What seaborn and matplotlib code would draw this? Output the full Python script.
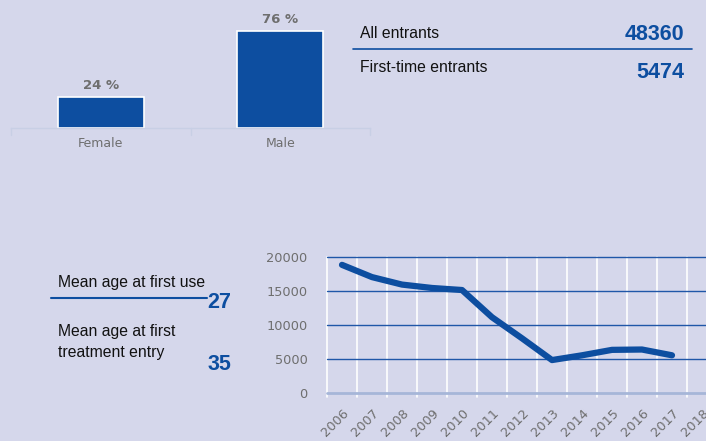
import matplotlib
matplotlib.use("Agg")
import matplotlib.pyplot as plt
import seaborn as sns
import pandas as pd
from matplotlib.lines import Line2D

sns.set_theme(style="white")
plt.rcParams['font.family'] = ['Liberation Sans', 'DejaVu Sans']

BG = "#d5d7eb"
BLUE = "#0d4ea0"
GRID = "#1f57a8"
GREY = "#6e6e6e"

# --- data ---
genders = ["Female", "Male"]
gender_pct = [24, 76]

years = [str(y) for y in range(2006, 2019)]
entrants = [18800, 17000, 15900, 15400, 15100, 11100, 8000, 4800, 5500, 6300, 6350, 5500, None]

kpi_labels = ["All entrants", "First-time entrants"]
kpi_values = ["48360", "5474"]

age_labels = ["Mean age at first use", "Mean age at first\ntreatment entry"]
age_values = ["27", "35"]

W, H = 706, 441
fig = plt.figure(figsize=(W / 100, H / 100), dpi=100, facecolor=BG)

def ax_px(x0, y0, x1, y1):
    return fig.add_axes([x0 / W, 1 - y1 / H, (x1 - x0) / W, (y1 - y0) / H])

# --- bar chart ---
axb = ax_px(11, 1, 370, 127.7)
axb.set_facecolor("none")
dfb = pd.DataFrame({"gender": genders, "pct": gender_pct})
sns.barplot(data=dfb, x="gender", y="pct", ax=axb, color=BLUE, width=0.48,
            edgecolor="white", linewidth=1.2, saturation=1)
axb.set_ylim(0, 99.3)
axb.set_xlim(-0.5, 1.5)
for i, v in enumerate(gender_pct):
    axb.text(i, v + 4, f"{v} %", ha="center", va="bottom", color=GREY,
             fontsize=9.5, fontweight="bold", family=["DejaVu Sans"])
for s in ["top", "right", "left"]:
    axb.spines[s].set_visible(False)
axb.spines["bottom"].set_color("#c8cfe5")
axb.spines["bottom"].set_linewidth(1)
axb.set_yticks([])
axb.set_xlabel("")
axb.set_ylabel("")
axb.set_xticks([0, 1])
axb.set_xticklabels(genders, color=GREY, fontsize=9, family=["DejaVu Sans"])
axb.tick_params(axis="x", length=0, pad=7)
for xb in [-0.5, 0.5, 1.5]:
    axb.plot([xb, xb], [0, -6], color="#c8cfe5", lw=1, clip_on=False)

# --- KPI text ---
fig.text(360 / W, 1 - 33 / H, kpi_labels[0], fontsize=11.3, color="#111111", va="center")
fig.text(684 / W, 1 - 35 / H, kpi_values[0], fontsize=15.5, color=BLUE, fontweight="bold",
         va="center", ha="right")
fig.add_artist(Line2D([353 / W, 692 / W], [1 - 49 / H] * 2, color=BLUE, lw=1.2))
fig.text(360 / W, 1 - 68 / H, kpi_labels[1], fontsize=11.3, color="#111111", va="center")
fig.text(684 / W, 1 - 73 / H, kpi_values[1], fontsize=15.5, color=BLUE, fontweight="bold",
         va="center", ha="right")

# --- age text ---
fig.text(58 / W, 1 - 283 / H, age_labels[0], fontsize=11.3, color="#111111", va="center")
fig.add_artist(Line2D([51 / W, 207 / W], [1 - 298 / H] * 2, color=BLUE, lw=1.5))
fig.text(231 / W, 1 - 302 / H, age_values[0], fontsize=15.5, color=BLUE, fontweight="bold",
         va="center", ha="right")
fig.text(58 / W, 1 - 342 / H, age_labels[1], fontsize=11.3, color="#111111", va="center",
         linespacing=1.45)
fig.text(231 / W, 1 - 365 / H, age_values[1], fontsize=15.5, color=BLUE, fontweight="bold",
         va="center", ha="right")

# --- line chart ---
axl = ax_px(327, 256.7, 717, 392.7)
axl.set_facecolor("none")
dfl = pd.DataFrame({"year": years, "n": entrants})
sns.lineplot(data=dfl, x="year", y="n", ax=axl, color=BLUE, lw=4.5, sort=False,
             solid_capstyle="round", solid_joinstyle="round")
axl.set_xlim(-0.5, len(years) - 0.5)
axl.set_ylim(0, 20000)
for s in ["top", "right", "left", "bottom"]:
    axl.spines[s].set_visible(False)
for yv in [5000, 10000, 15000, 20000]:
    axl.axhline(yv, color=GRID, lw=1, zorder=1, clip_on=False)
axl.axhline(0, color="#a6b6d8", lw=2, zorder=1, clip_on=False)
for k in range(len(years) + 1):
    axl.plot([k - 0.5, k - 0.5], [-600, 20000], color="white", lw=1.2, zorder=0.5, clip_on=False)
axl.set_yticks([0, 5000, 10000, 15000, 20000])
axl.set_yticklabels(["0", "5000", "10000", "15000", "20000"], color=GREY, fontsize=9.3,
                    family=["DejaVu Sans"])
axl.set_xticks(range(len(years)))
axl.set_xticklabels(years, rotation=45, ha="right", rotation_mode="anchor", color=GREY,
                    fontsize=9.3, family=["DejaVu Sans"])
axl.tick_params(axis="both", length=0)
axl.tick_params(axis="y", pad=14)
axl.tick_params(axis="x", pad=10)
axl.set_xlabel("")
axl.set_ylabel("")

fig.savefig("out.png", dpi=100, facecolor=BG)
